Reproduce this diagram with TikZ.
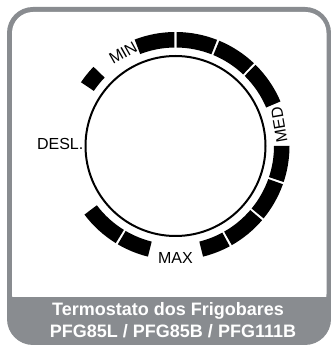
\documentclass[tikz,border=0pt]{standalone}
\usepackage{fontspec}
\setmainfont{Liberation Sans}
\usepackage{xcolor}
\usepackage{tikz}
\definecolor{cinza}{RGB}{137,140,144}
\tikzset{rotulo/.style={font=\fontsize{16}{16}\selectfont, inner sep=0pt}}
\tikzset{titulo/.style={white, font=\bfseries\fontsize{18}{18}\selectfont, inner sep=0pt, anchor=base}}

\begin{document}
\begin{tikzpicture}[x=1pt,y=1pt]
\useasboundingbox (0,0) rectangle (331,345);
%moldura
\fill[cinza, rounded corners=26pt] (7,0) rectangle (331,338);
\fill[white, rounded corners=21pt] (12,30) rectangle (326.5,333);
\fill[cinza] (12,26) rectangle (326.5,48);
\node[titulo] (L1) at (168,29) {Termostato dos Frigobares};
\node[titulo] (L2) at (173,8) {PFG85L / PFG85B / PFG111B};
%botao
\begin{scope}[shift={(175.5,199)}]
\draw[line width=2pt] (0,0) circle (90);
%segmentos da escala
\foreach \a/\b in {136/146, 90.6/111, 68.6/89.4, 46.6/67.4, 23/45.4, -18.4/0, -39.4/-19.6, -60.4/-40.6, -76/-61.6, -120.4/-104, -143/-121.6}
{
\fill (\a:114) arc[start angle=\a, end angle=\b, radius=114] -- (\b:98.5) arc[start angle=\b, end angle=\a, radius=98.5] -- cycle;
}
\node[rotulo, rotate=29.4] (MIN) at (119.4:106.8) {MIN};
\node[rotulo, rotate=100] (MED) at (11.5:105.8) {MED};
\node[rotulo] (MAX) at (-90:111.5) {MAX};
\node[rotulo, anchor=east] (DESL) at (178.8:92) {DESL.};
\end{scope}
\end{tikzpicture}
\end{document}
